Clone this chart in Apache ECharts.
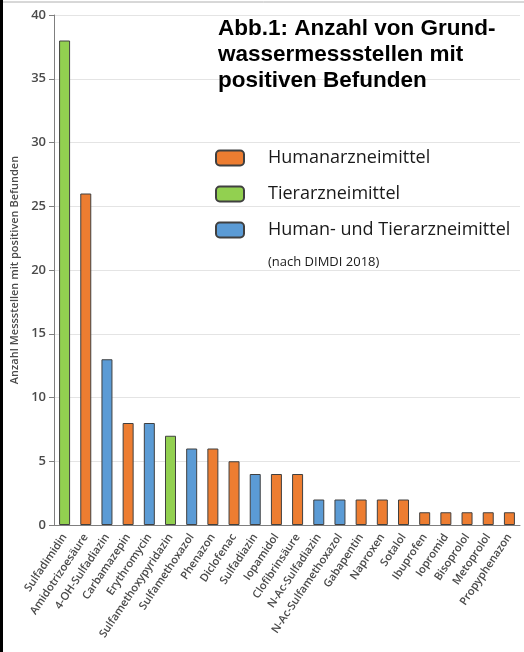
<!DOCTYPE html>
<html><head><meta charset="utf-8">
<script src="https://cdn.jsdelivr.net/npm/echarts@6/dist/echarts.min.js"></script>
<style>html,body{margin:0;padding:0;background:#fff}#c{width:524px;height:652px}</style>
</head><body><div id="c"></div>
<script>
const categories = ["Sulfadimidin","Amidotrizoesäure","4-OH-Sulfadiazin","Carbamazepin","Erythromycin","Sulfamethoxypyridazin","Sulfamethoxazol","Phenazon","Diclofenac","Sulfadiazin","Iopamidol","Clofibrinsäure","N-Ac-Sulfadiazin","N-Ac-Sulfamethoxazol","Gabapentin","Naproxen","Sotalol","Ibuprofen","Iopromid","Bisoprolol","Metoprolol","Propyphenazon"];
const values = [38,26,13,8,8,7,6,6,5,4,4,4,2,2,2,2,2,1,1,1,1,1];
const groups = ["T","H","B","H","B","T","B","H","H","B","H","H","B","B","H","H","H","H","H","H","H","H"];
const groupNames = {H:"Humanarzneimittel", T:"Tierarzneimittel", B:"Human- und Tierarzneimittel"};
const groupColors = {H:"#ED7D31", T:"#92D050", B:"#5B9BD5"};
const groupOrder = ["H","T","B"];
const yTicks = {min:0, max:40, interval:5};

const chart = echarts.init(document.getElementById('c'));
const series = groupOrder.map(g => ({
  name: groupNames[g],
  type: 'bar',
  barWidth: 11,
  barGap: '-100%',
  itemStyle: {color: groupColors[g], borderColor: '#404040', borderWidth: 1},
  data: values.map((v,i) => groups[i] === g ? v : null)
}));
chart.setOption({
  animation: false,
  title: {
    text: "Abb.1: Anzahl von Grund-\nwassermessstellen mit\npositiven Befunden",
    left: 213, top: 11, padding: 5,
    textStyle: {fontFamily: 'Liberation Sans', fontWeight: 'bold', fontSize: 22.5, lineHeight: 26, color: '#000'}
  },
  legend: {
    orient: 'vertical', left: 215, top: 147, padding: 0,
    itemWidth: 28, itemHeight: 15, itemGap: 14,
    textStyle: {fontFamily: 'Open Sans', fontSize: 18, lineHeight: 22, color: '#1a1a1a', padding: [0,0,0,19]},
    data: groupOrder.map(g => groupNames[g])
  },
  grid: {left: 54, right: 4, top: 15, bottom: 127, containLabel: false},
  xAxis: {
    type: 'category', data: categories,
    axisLine: {lineStyle: {color: '#7f7f7f'}},
    axisTick: {alignWithLabel: false, length: 5, lineStyle: {color: '#7f7f7f'}},
    axisLabel: {rotate: 56, interval: 0, fontFamily: 'Open Sans', fontSize: 11, fontWeight: 600, color: '#4a4a4a', margin: 10}
  },
  yAxis: {
    type: 'value', min: yTicks.min, max: yTicks.max, interval: yTicks.interval,
    name: 'Anzahl Messstellen mit positiven Befunden', nameLocation: 'middle', nameGap: 33,
    nameTextStyle: {fontFamily: 'Open Sans', fontSize: 11, fontWeight: 600, color: '#4a4a4a'},
    axisLine: {show: true, lineStyle: {color: '#7f7f7f'}},
    axisTick: {show: true, length: 5, lineStyle: {color: '#7f7f7f'}},
    axisLabel: {fontFamily: 'Open Sans', fontSize: 13, fontWeight: 600, color: '#4a4a4a', margin: 8},
    splitLine: {lineStyle: {color: '#e4e4e4'}}
  },
  graphic: [
    {type: 'rect', left: 0, top: 0, shape: {width: 3, height: 652}, style: {fill: '#000'}},
    {type: 'line', shape: {x1: 3, y1: 2, x2: 524, y2: 2}, style: {stroke: '#b0b0b0', lineWidth: 1}},
    {type: 'text', left: 268, top: 256, style: {text: '(nach DIMDI 2018)', font: '13px "Open Sans"', fill: '#1a1a1a'}}
  ],
  series: series
});
</script></body></html>
